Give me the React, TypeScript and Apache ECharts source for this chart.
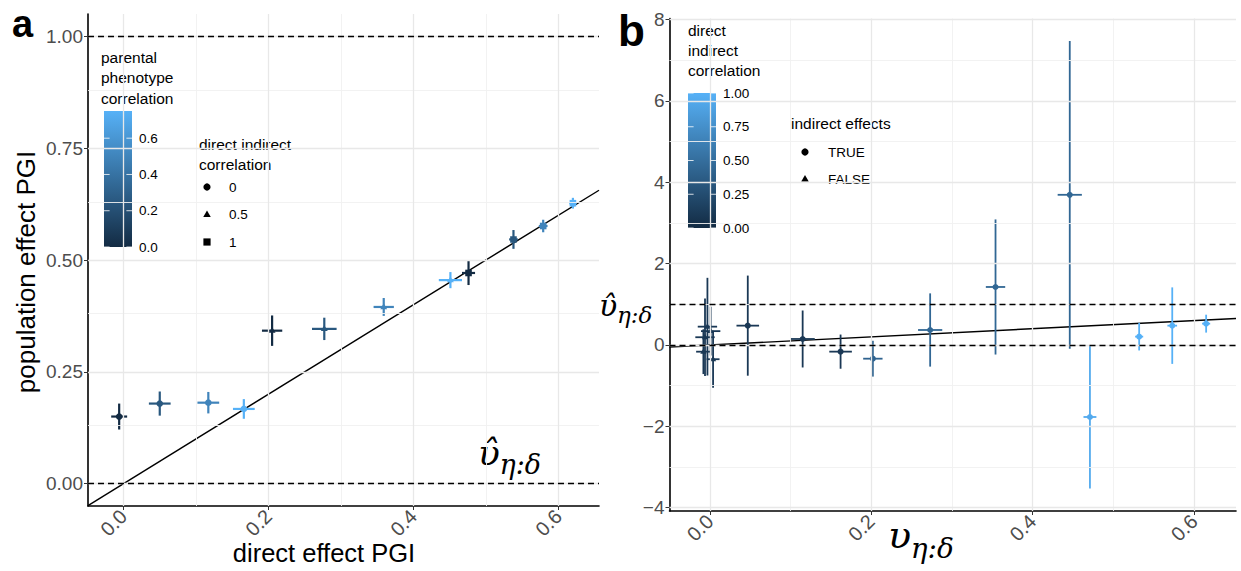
import React, { useEffect, useRef } from "react";
import * as echarts from "echarts";

// ---------- Panel a data ----------
const A_DIRECT = [-0.006, 0.05, 0.117, 0.166, 0.205, 0.277, 0.359, 0.451, 0.476, 0.538, 0.579, 0.62];
const A_POPULATION = [0.15, 0.179, 0.181, 0.167, 0.342, 0.346, 0.395, 0.455, 0.471, 0.546, 0.576, 0.627];
const A_DIRECT_SE = [0.011, 0.015, 0.015, 0.015, 0.014, 0.017, 0.014, 0.016, 0.009, 0.006, 0.006, 0.005];
const A_POPULATION_SE = [0.029, 0.027, 0.024, 0.022, 0.034, 0.025, 0.02, 0.018, 0.027, 0.021, 0.014, 0.012];
const A_PARENTAL_CORR = [0, 0.25, 0.5, 0.75, 0, 0.25, 0.5, 0.75, 0, 0.25, 0.5, 0.75];
const A_DIR_IND_CORR = [0, 0, 0, 0, 0.5, 0.5, 0.5, 0.5, 1, 1, 1, 1];

const A_X_LIM = [-0.049, 0.656];
const A_Y_LIM = [-0.05, 1.05];
const A_X_TICKS = [0, 0.2, 0.4, 0.6];
const A_X_MINOR = [0.1, 0.3, 0.5];
const A_Y_TICKS = [0, 0.25, 0.5, 0.75, 1];
const A_Y_MINOR = [0.125, 0.375, 0.625, 0.875];
const A_HLINES = [0, 1];
const A_COLOR_MAX = 0.75;
const A_COLOR_TICKS = [0, 0.2, 0.4, 0.6];
const A_SHAPE_LEVELS = ["0", "0.5", "1"];

// ---------- Panel b data ----------
const B_TRUE = [-0.006, -0.003, 0.001, -0.008, 0.004, 0.047, 0.115, 0.162, 0.202, 0.273, 0.354, 0.446, 0.471, 0.532, 0.573, 0.615];
const B_EST = [0.19, 0.45, 0.34, -0.165, -0.35, 0.475, 0.147, -0.164, -0.337, 0.368, 1.425, 3.69, -1.77, 0.205, 0.475, 0.524];
const B_TRUE_SE = [0.012, 0.012, 0.012, 0.009, 0.008, 0.014, 0.015, 0.014, 0.012, 0.015, 0.012, 0.015, 0.008, 0.005, 0.006, 0.005];
const B_EST_SE = [0.95, 1.2, 0.6, 0.55, 0.7, 1.23, 0.7, 0.42, 0.44, 0.9, 1.66, 3.78, 1.76, 0.34, 0.94, 0.22];
const B_CORR = [0.1, 0.1, 0.1, 0.1, 0.1, 0.1, 0.1, 0.1, 0.42, 0.45, 0.45, 0.45, 0.95, 1, 1, 1];
const B_INDIRECT = [false, false, false, false, false, true, true, true, true, true, true, true, true, true, true, true];

const B_X_LIM = [-0.05, 0.652];
const B_Y_LIM = [-4.08, 8.02];
const B_X_TICKS = [0, 0.2, 0.4, 0.6];
const B_X_MINOR = [0.1, 0.3, 0.5];
const B_Y_TICKS = [-4, -2, 0, 2, 4, 6, 8];
const B_Y_MINOR = [-3, -1, 1, 3, 5, 7];
const B_HLINES = [0, 1];
const B_COLOR_MAX = 1;
const B_COLOR_TICKS = [0, 0.25, 0.5, 0.75, 1];
const B_SHAPE_LEVELS = ["TRUE", "FALSE"];

// ---------- helpers ----------
const LOW = [0x13, 0x2b, 0x43];
const HIGH = [0x56, 0xb1, 0xf7];
function grad(t: number) {
  const c = LOW.map((l, i) => Math.round(l + (HIGH[i] - l) * Math.max(0, Math.min(1, t))));
  return `rgb(${c[0]},${c[1]},${c[2]})`;
}
const SANS = "'Liberation Sans', Arial, sans-serif";
const SERIF = "'DejaVu Serif', 'Liberation Serif', serif";
const TICK_COLOR = "#4d4d4d";

function markerShape(shape: number, cx: number, cy: number, size: number, fill: string) {
  if (shape === 1) {
    const h = size * 1.1;
    return {
      type: "polygon",
      shape: { points: [[cx, cy - h], [cx - h * 0.95, cy + h * 0.6], [cx + h * 0.95, cy + h * 0.6]] },
      style: { fill },
    };
  }
  if (shape === 2) {
    return { type: "rect", shape: { x: cx - size, y: cy - size, width: size * 2, height: size * 2 }, style: { fill } };
  }
  return { type: "circle", shape: { cx, cy, r: size }, style: { fill } };
}

function makeRenderItem(cmax: number, lw: number, msize: number) {
  return (params: any, api: any) => {
    const x = api.value(0), y = api.value(1), xe = api.value(2), ye = api.value(3);
    const c = api.value(4), s = api.value(5);
    const color = grad(c / cmax);
    const p = api.coord([x, y]);
    const v0 = api.coord([x, y - ye]);
    const v1 = api.coord([x, y + ye]);
    const h0 = api.coord([x - xe, y]);
    const h1 = api.coord([x + xe, y]);
    return {
      type: "group",
      children: [
        { type: "line", shape: { x1: v0[0], y1: v0[1], x2: v1[0], y2: v1[1] }, style: { stroke: color, lineWidth: lw } },
        { type: "line", shape: { x1: h0[0], y1: h0[1], x2: h1[0], y2: h1[1] }, style: { stroke: color, lineWidth: lw } },
        markerShape(s, p[0], p[1], msize, color),
      ],
    };
  };
}

function gridLineSeries(xi: number, major: number[], minor: number[], ymajor: number[], yminor: number[]) {
  const mk = (arr: number[], key: string, w: number, col: string) =>
    arr.map((v) => ({ [key]: v, lineStyle: { color: col, width: w, type: "solid" } }));
  return {
    type: "line",
    xAxisIndex: xi,
    yAxisIndex: xi,
    data: [],
    z: 1,
    silent: true,
    markLine: {
      silent: true,
      symbol: ["none", "none"],
      label: { show: false },
      emphasis: { disabled: true },
      data: [
        ...mk(minor, "xAxis", 0.9, "#f0f0f0"),
        ...mk(yminor, "yAxis", 0.9, "#f0f0f0"),
        ...mk(major, "xAxis", 1.3, "#e8e8e8"),
        ...mk(ymajor, "yAxis", 1.3, "#e8e8e8"),
      ],
    },
  };
}

function refSeries(xi: number, xlim: number[], hl: number[]) {
  return {
    type: "line",
    xAxisIndex: xi,
    yAxisIndex: xi,
    data: [[xlim[0], xlim[0]], [xlim[1], xlim[1]]],
    showSymbol: false,
    symbol: "none",
    silent: true,
    z: 2,
    lineStyle: { color: "#000", width: 1.4 },
    markLine: {
      silent: true,
      symbol: ["none", "none"],
      label: { show: false },
      emphasis: { disabled: true },
      lineStyle: { color: "#000", width: 1.4, type: [6, 4] },
      data: hl.map((v) => ({ yAxis: v })),
    },
  };
}

function xAxisCfg(gi: number, lim: number[], ticks: number[]) {
  return {
    gridIndex: gi,
    type: "value",
    min: lim[0],
    max: lim[1],
    splitLine: { show: false },
    axisLine: { show: true, onZero: false, lineStyle: { color: "#000", width: 1.6 } },
    axisTick: { show: true, length: 4, customValues: ticks, lineStyle: { color: "#333", width: 1 } },
    axisLabel: {
      customValues: ticks,
      rotate: 45,
      color: TICK_COLOR,
      fontSize: 20,
      fontFamily: SANS,
      margin: 7,
      formatter: (v: number) => v.toFixed(1),
    },
  };
}

function yAxisCfg(gi: number, lim: number[], ticks: number[], fmt: (v: number) => string) {
  return {
    gridIndex: gi,
    type: "value",
    min: lim[0],
    max: lim[1],
    splitLine: { show: false },
    axisLine: { show: true, onZero: false, lineStyle: { color: "#000", width: 1.6 } },
    axisTick: { show: true, length: 4, customValues: ticks, lineStyle: { color: "#333", width: 1 } },
    axisLabel: { customValues: ticks, color: TICK_COLOR, fontSize: 19, fontFamily: SANS, margin: 5, formatter: fmt },
  };
}

function txt(x: number, y: number, text: string, size: number, extra: any = {}) {
  return {
    type: "text",
    x,
    y,
    silent: true,
    style: {
      text,
      fill: extra.fill || "#000",
      font: `${extra.weight || "normal"} ${size}px ${extra.family || SANS}`,
      textAlign: extra.align || "left",
      textVerticalAlign: extra.valign || "middle",
    },
    rotation: extra.rotation || 0,
  };
}

function mathLabel(x: number, y: number, hat: boolean, size: number, subSize: number) {
  return [
    {
      type: "text",
      x,
      y,
      silent: true,
      style: { text: hat ? "\u03C5\u0302" : "\u03C5", fill: "#000", font: `italic ${size}px ${SERIF}`, textAlign: "left", textVerticalAlign: "bottom" },
    },
    {
      type: "text",
      x: x + size * 0.6,
      y: y + size * 0.22,
      silent: true,
      style: { text: "\u03B7:\u03B4", fill: "#000", font: `italic ${subSize}px ${SERIF}`, textAlign: "left", textVerticalAlign: "bottom" },
    },
  ];
}

function colorbar(x: number, y: number, w: number, h: number, cmax: number, ticks: number[], fmt: (v: number) => string) {
  const els: any[] = [
    {
      type: "rect",
      silent: true,
      shape: { x, y, width: w, height: h },
      style: {
        fill: {
          type: "linear", x: 0, y: 0, x2: 0, y2: 1,
          colorStops: [{ offset: 0, color: grad(1) }, { offset: 1, color: grad(0) }],
        },
      },
    },
  ];
  ticks.forEach((t) => {
    const ty = y + h - (t / cmax) * h;
    els.push({ type: "line", silent: true, shape: { x1: x, y1: ty, x2: x + w * 0.2, y2: ty }, style: { stroke: "rgba(255,255,255,0.8)", lineWidth: 1 } });
    els.push({ type: "line", silent: true, shape: { x1: x + w * 0.8, y1: ty, x2: x + w, y2: ty }, style: { stroke: "rgba(255,255,255,0.8)", lineWidth: 1 } });
    els.push(txt(x + w + 7, ty, fmt(t), 13.5));
  });
  return els;
}

function legendShape(shape: number, cx: number, cy: number) {
  return { ...markerShape(shape, cx, cy, 3.6, "#000"), silent: true };
}

export default function App() {
  const ref = useRef<HTMLDivElement>(null);
  useEffect(() => {
    if (!ref.current) return;
    const chart = echarts.init(ref.current, undefined, { renderer: "svg" });

    const aData = A_DIRECT.map((x, i) => [x, A_POPULATION[i], A_DIRECT_SE[i], A_POPULATION_SE[i], A_PARENTAL_CORR[i], A_SHAPE_LEVELS.indexOf(String(A_DIR_IND_CORR[i]))]);
    const bData = B_TRUE.map((x, i) => [x, B_EST[i], B_TRUE_SE[i], B_EST_SE[i], B_CORR[i], B_INDIRECT[i] ? 0 : 1]);

    const graphics: any[] = [
      txt(12, 24, "a", 38, { weight: "bold" }),
      txt(618, 30, "b", 44, { weight: "bold" }),
      txt(26, 272, "population effect PGI", 26, { align: "center", rotation: Math.PI / 2 }),
      txt(324, 553, "direct effect PGI", 25.5, { align: "center" }),
      ...mathLabel(478, 470, true, 36, 27),
      ...mathLabel(599, 320, true, 30, 23),
      ...mathLabel(888, 554, false, 38, 28),
      // panel a legends
      txt(101, 57, "parental", 15.5),
      txt(101, 77, "phenotype", 15.5),
      txt(101, 98, "correlation", 15.5),
      ...colorbar(104, 111, 28, 136, A_COLOR_MAX, A_COLOR_TICKS, (v) => v.toFixed(1)),
      txt(199, 144, "direct indirect", 15.5),
      txt(199, 164, "correlation", 15.5),
      ...A_SHAPE_LEVELS.flatMap((lab, i) => [legendShape(i, 207, 187 + i * 27.5), txt(229, 187 + i * 27.5, lab, 13.5)]),
      // panel b legends
      txt(688, 30, "direct", 15.5),
      txt(688, 50, "indirect", 15.5),
      txt(688, 70, "correlation", 15.5),
      ...colorbar(688, 93, 28, 135, B_COLOR_MAX, B_COLOR_TICKS, (v) => v.toFixed(2)),
      txt(791, 123, "indirect effects", 15.5),
      ...B_SHAPE_LEVELS.flatMap((lab, i) => [legendShape(i, 805, 152 + i * 27), txt(828, 152 + i * 27, lab, 13.5)]),
    ];

    chart.setOption({
      animation: false,
      backgroundColor: "#fff",
      grid: [
        { left: 88, top: 14, width: 511, height: 492 },
        { left: 669.5, top: 18.6, width: 566.5, height: 492.4 },
      ],
      xAxis: [xAxisCfg(0, A_X_LIM, A_X_TICKS), xAxisCfg(1, B_X_LIM, B_X_TICKS)],
      yAxis: [
        yAxisCfg(0, A_Y_LIM, A_Y_TICKS, (v) => v.toFixed(2)),
        yAxisCfg(1, B_Y_LIM, B_Y_TICKS, (v) => String(Math.round(v)).replace("-", "\u2212")),
      ],
      series: [
        gridLineSeries(0, A_X_TICKS, A_X_MINOR, A_Y_TICKS, A_Y_MINOR),
        refSeries(0, A_X_LIM, A_HLINES),
        {
          type: "custom",
          xAxisIndex: 0,
          yAxisIndex: 0,
          z: 3,
          silent: true,
          renderItem: makeRenderItem(A_COLOR_MAX, 2.2, 3.3),
          encode: { x: 0, y: 1 },
          data: aData,
        },
        gridLineSeries(1, B_X_TICKS, B_X_MINOR, B_Y_TICKS, B_Y_MINOR),
        refSeries(1, B_X_LIM, B_HLINES),
        {
          type: "custom",
          xAxisIndex: 1,
          yAxisIndex: 1,
          z: 3,
          silent: true,
          renderItem: makeRenderItem(B_COLOR_MAX, 1.8, 3),
          encode: { x: 0, y: 1 },
          data: bData,
        },
      ],
      graphic: graphics,
    });
    return () => chart.dispose();
  }, []);
  return <div ref={ref} style={{ position: "absolute", left: 0, top: 0, width: 1241, height: 571 }} />;
}
